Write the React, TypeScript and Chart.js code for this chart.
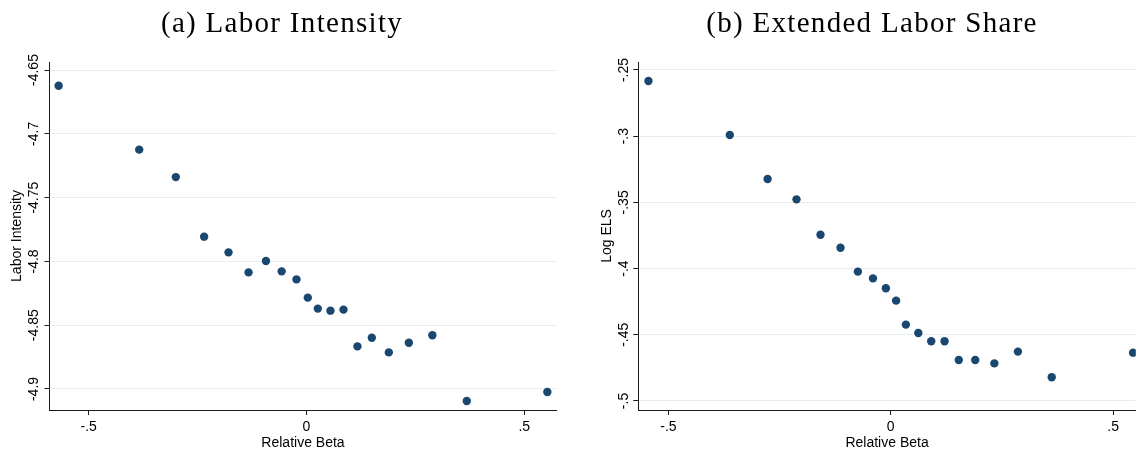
import React, { useEffect, useRef } from "react";
import { Chart, registerables } from "chart.js";

Chart.register(...registerables);

// ---- Panel (a): Labor Intensity ----
const betaA: number[] = [
  -0.569, -0.384, -0.3, -0.235, -0.179, -0.133, -0.093, -0.057, -0.023, 0.003,
  0.026, 0.055, 0.085, 0.117, 0.15, 0.189, 0.235, 0.289, 0.368, 0.553,
];
const laborIntensity: number[] = [
  -4.6623, -4.7124, -4.7339, -4.7806, -4.7929, -4.8086, -4.7997, -4.8078, -4.8141, -4.8284,
  -4.837, -4.8386, -4.8378, -4.8666, -4.8598, -4.8713, -4.8637, -4.8579, -4.9094, -4.9024,
];
const yTicksA: number[] = [-4.65, -4.7, -4.75, -4.8, -4.85, -4.9];
const yTickLabelsA: string[] = ["-4.65", "-4.7", "-4.75", "-4.8", "-4.85", "-4.9"];

// ---- Panel (b): Extended Labor Share ----
const betaB: number[] = [
  -0.545, -0.362, -0.277, -0.212, -0.158, -0.113, -0.074, -0.04, -0.011, 0.012,
  0.034, 0.062, 0.091, 0.121, 0.153, 0.19, 0.233, 0.286, 0.362, 0.545,
];
const logELS: number[] = [
  -0.2583, -0.2991, -0.3323, -0.3477, -0.3744, -0.3842, -0.4023, -0.4074, -0.4149, -0.4242,
  -0.4423, -0.4486, -0.4549, -0.4549, -0.469, -0.469, -0.4716, -0.4627, -0.4821, -0.4635,
];
const yTicksB: number[] = [-0.25, -0.3, -0.35, -0.4, -0.45, -0.5];
const yTickLabelsB: string[] = ["-.25", "-.3", "-.35", "-.4", "-.45", "-.5"];

const xTicks: number[] = [-0.5, 0, 0.5];
const xTickLabels: string[] = ["-.5", "0", ".5"];

const NAVY = "#1a476f";
const GRID = "#e4edf0";
const AXIS = "#1a1a1a";
const SANS = "'Liberation Sans', Arial, sans-serif";
const SERIF = "'Liberation Serif', 'Times New Roman', serif";

type PanelCfg = {
  xs: number[];
  ys: number[];
  yTicks: number[];
  yLabels: string[];
  xMin: number;
  xMax: number;
  yMin: number;
  yMax: number;
  yAxisWidth: number;
  padRight: number;
  yLabelX: number;
  yTitleX: number;
  yTitle: string;
  title: string;
  titleX: number;
};

const panelA: PanelCfg = {
  xs: betaA,
  ys: laborIntensity,
  yTicks: yTicksA,
  yLabels: yTickLabelsA,
  xMin: -0.59,
  xMax: 0.574,
  yMin: -4.91646,
  yMax: -4.6437,
  yAxisWidth: 49.5,
  padRight: 13.5,
  yLabelX: 34.5,
  yTitleX: 17,
  yTitle: "Labor Intensity",
  title: "(a) Labor Intensity",
  titleX: 282,
};

const panelB: PanelCfg = {
  xs: betaB,
  ys: logELS,
  yTicks: yTicksB,
  yLabels: yTickLabelsB,
  xMin: -0.5678,
  xMax: 0.5511,
  yMin: -0.5068,
  yMax: -0.24396,
  yAxisWidth: 68.3,
  padRight: 0,
  yLabelX: 54,
  yTitleX: 37.5,
  yTitle: "Log ELS",
  title: "(b) Extended Labor Share",
  titleX: 302,
};

function Panel({ cfg, left }: { cfg: PanelCfg; left: number }) {
  const ref = useRef<HTMLCanvasElement | null>(null);

  useEffect(() => {
    if (!ref.current) return;
    const decor = {
      id: "decor",
      afterDraw(chart: any) {
        const ctx = chart.ctx as CanvasRenderingContext2D;
        const y = chart.scales.y;
        const area = chart.chartArea;
        ctx.save();
        ctx.fillStyle = "#000";
        // y tick labels (rotated)
        ctx.font = `14px ${SANS}`;
        ctx.textAlign = "center";
        ctx.textBaseline = "middle";
        cfg.yTicks.forEach((v, i) => {
          const py = y.getPixelForValue(v);
          ctx.save();
          ctx.translate(cfg.yLabelX, py);
          ctx.rotate(-Math.PI / 2);
          ctx.fillText(cfg.yLabels[i], 0, 0);
          ctx.restore();
        });
        // y title
        ctx.save();
        ctx.translate(cfg.yTitleX, (area.top + area.bottom) / 2);
        ctx.rotate(-Math.PI / 2);
        ctx.fillText(cfg.yTitle, 0, 0);
        ctx.restore();
        // panel title
        ctx.font = `29px ${SERIF}`;
        (ctx as any).letterSpacing = "1.3px";
        ctx.textBaseline = "alphabetic";
        ctx.fillText(cfg.title, cfg.titleX, 32);
        ctx.restore();
      },
    };

    const chart = new Chart(ref.current, {
      type: "scatter",
      data: {
        datasets: [
          {
            data: cfg.xs.map((x, i) => ({ x, y: cfg.ys[i] })),
            backgroundColor: NAVY,
            borderColor: NAVY,
            borderWidth: 0,
            pointRadius: 4.2,
            pointHoverRadius: 4.2,
          },
        ],
      },
      options: {
        responsive: false,
        animation: false,
        events: [],
        layout: { padding: { top: 62, right: cfg.padRight, bottom: 0, left: 0 } },
        plugins: {
          legend: { display: false },
          tooltip: { enabled: false },
          title: { display: false },
        },
        scales: {
          x: {
            type: "linear",
            min: cfg.xMin,
            max: cfg.xMax,
            afterBuildTicks: (s: any) => {
              s.ticks = xTicks.map((v) => ({ value: v }));
            },
            afterFit: (s: any) => {
              s.height = 40;
            },
            ticks: {
              color: "#000",
              font: { family: SANS, size: 14 },
              padding: 4,
              maxRotation: 0,
              autoSkip: false,
              callback: (v: any) => {
                const i = xTicks.indexOf(Number(v));
                return i >= 0 ? xTickLabels[i] : "";
              },
            },
            grid: {
              drawOnChartArea: false,
              drawTicks: true,
              tickLength: 5,
              tickColor: AXIS,
            },
            border: { display: true, color: AXIS, width: 1 },
            title: {
              display: true,
              text: "Relative Beta",
              color: "#000",
              font: { family: SANS, size: 14, lineHeight: 1 },
              padding: { top: 0, bottom: 0 },
            },
          },
          y: {
            type: "linear",
            min: cfg.yMin,
            max: cfg.yMax,
            afterBuildTicks: (s: any) => {
              s.ticks = cfg.yTicks.map((v) => ({ value: v }));
            },
            afterFit: (s: any) => {
              s.width = cfg.yAxisWidth;
            },
            ticks: { display: false },
            grid: {
              color: GRID,
              lineWidth: 1,
              drawTicks: true,
              tickLength: 5,
              tickColor: AXIS,
            },
            border: { display: true, color: AXIS, width: 1 },
          },
        },
      },
      plugins: [decor],
    } as any);
    return () => chart.destroy();
  }, [cfg]);

  return (
    <canvas
      ref={ref}
      width={570}
      height={450}
      style={{ position: "absolute", left, top: 0, width: 570, height: 450, display: "block" }}
    />
  );
}

export default function App() {
  return (
    <div
      style={{
        position: "fixed",
        left: 0,
        top: 0,
        width: 1140,
        height: 450,
        background: "#fff",
        overflow: "hidden",
      }}
    >
      <Panel cfg={panelA} left={0} />
      <Panel cfg={panelB} left={570} />
    </div>
  );
}
